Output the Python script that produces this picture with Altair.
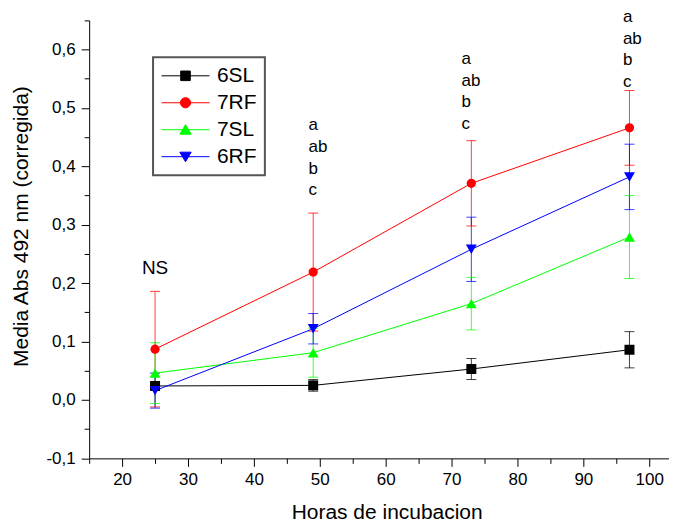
import altair as alt
import pandas as pd

FONT = "Liberation Sans"

# ---- data ----
hours = [25, 49, 73, 97]
series_names = ["6SL", "7RF", "7SL", "6RF"]
mean_6SL = [0.024, 0.025, 0.053, 0.086]
err_6SL = [0.006, 0.010, 0.018, 0.031]
mean_7RF = [0.087, 0.219, 0.371, 0.466]
err_7RF = [0.099, 0.101, 0.073, 0.064]
mean_7SL = [0.046, 0.081, 0.165, 0.279]
err_7SL = [0.052, 0.042, 0.045, 0.071]
mean_6RF = [0.016, 0.122, 0.258, 0.382]
err_6RF = [0.030, 0.026, 0.055, 0.056]

annot_text = ["NS", "a\nab\nb\nc", "a\nab\nb\nc", "a\nab\nb\nc"]
annot_x = [25, 48.3, 71.5, 96.0]
annot_y = [0.215, 0.4615, 0.5755, 0.647]

x_ticks = list(range(15, 105, 5))
y_ticks = [round(-0.1 + 0.05 * i, 2) for i in range(16)]

# ---- styles ----
colors = ["#000000", "#ff0000", "#00ff00", "#0000ff"]
markers = ["square", "circle", "triangle-up", "triangle-down"]
marker_sizes = [100, 85, 120, 120]
legend_paths = [
    "M -4 0 L 4 0 M -0.8 -0.8 L 0.8 -0.8 L 0.8 0.8 L -0.8 0.8 Z",
    "M -4 0 L 4 0 M -0.85 0 A 0.85 0.85 0 1 0 0.85 0 A 0.85 0.85 0 1 0 -0.85 0 Z",
    "M -4 0 L 4 0 M 0 -0.85 L 0.95 0.75 L -0.95 0.75 Z",
    "M -4 0 L 4 0 M 0 0.85 L 0.95 -0.75 L -0.95 -0.75 Z",
]

means = [mean_6SL, mean_7RF, mean_7SL, mean_6RF]
errs = [err_6SL, err_7RF, err_7SL, err_6RF]
rows = []
for si, name in enumerate(series_names):
    for h, m, e in zip(hours, means[si], errs[si]):
        rows.append({"series": name, "hours": h, "mean": m, "err": e,
                     "marker": markers[si], "msize": marker_sizes[si]})
df = pd.DataFrame(rows)
ann = pd.DataFrame({"text": annot_text, "x": annot_x, "y": annot_y})

xscale = alt.Scale(domain=[15, 103], nice=False, zero=False)
yscale = alt.Scale(domain=[-0.1, 0.65], nice=False, zero=False)

x_axis = alt.Axis(
    values=x_ticks, title="Horas de incubacion", grid=False,
    labelExpr="datum.value % 10 == 0 ? datum.label : ''",
    tickSize={"condition": {"test": "datum.value % 10 != 0", "value": 5}, "value": 8},
    labelPadding=5, titleX=298, titleY=60, titleBaseline="alphabetic", titleAlign="center",
)
y_axis = alt.Axis(
    values=y_ticks, title="Media Abs 492 nm (corregida)", grid=False,
    labelExpr="abs(datum.value*10 - round(datum.value*10)) < 0.001 ? replace(replace(format(datum.value, '.1f'), '.', ','), '\u2212', '-') : ''",
    tickSize={"condition": {"test": "abs(datum.value*10 - round(datum.value*10)) > 0.001", "value": 5}, "value": 8},
    labelPadding=6, titleX=-61.3, titleY=206, titleBaseline="alphabetic", titleAlign="center",
)

color = alt.Color("series:N", scale=alt.Scale(domain=series_names, range=colors), legend=None)
X = alt.X("hours:Q", scale=xscale, axis=x_axis)

base = alt.Chart(df).transform_calculate(lo="datum.mean - datum.err", hi="datum.mean + datum.err")

rules = base.mark_rule(strokeWidth=1, opacity=0.75).encode(
    x=X, y=alt.Y("lo:Q", scale=yscale, axis=y_axis), y2="hi:Q", color=color)
caps_lo = base.mark_tick(orient="horizontal", size=10, thickness=1, opacity=0.75).encode(
    x=X, y=alt.Y("lo:Q", scale=yscale, axis=y_axis), color=color)
caps_hi = base.mark_tick(orient="horizontal", size=10, thickness=1, opacity=0.75).encode(
    x=X, y=alt.Y("hi:Q", scale=yscale, axis=y_axis), color=color)
lines = base.mark_line(strokeWidth=1).encode(
    x=X, y=alt.Y("mean:Q", scale=yscale, axis=y_axis), color=color, detail="series:N")
points = base.mark_point(filled=True, opacity=1).encode(
    x=X, y=alt.Y("mean:Q", scale=yscale, axis=y_axis), color=color,
    shape=alt.Shape("marker:N", scale=None),
    size=alt.Size("msize:Q", scale=None),
)

leg = alt.Legend(
    orient="none", legendX=64, legendY=37, title=None,
    labelFont=FONT, labelFontSize=21, labelColor="black",
    symbolSize=144, symbolStrokeWidth=1, symbolOpacity=1,
    symbolOffset=14, labelOffset=21, padding=8, rowPadding=5,
    strokeColor="#555555", fillColor="white",
)
legend_layer = alt.Chart(df).mark_point(filled=True, opacity=0).encode(
    x=X, y=alt.Y("mean:Q", scale=yscale, axis=y_axis),
    fill=alt.Fill("series:N", scale=alt.Scale(domain=series_names, range=colors), legend=leg),
    stroke=alt.Stroke("series:N", scale=alt.Scale(domain=series_names, range=colors), legend=leg),
    shape=alt.Shape("series:N", scale=alt.Scale(domain=series_names, range=legend_paths), legend=leg),
)

ann_base = alt.Chart(ann)
ns_text = ann_base.transform_filter("datum.text == 'NS'").mark_text(
    align="center", baseline="alphabetic", fontSize=19, font=FONT, color="black"
).encode(x=alt.X("x:Q", scale=xscale, axis=x_axis), y=alt.Y("y:Q", scale=yscale, axis=y_axis), text="text:N")
letters = ann_base.transform_filter("datum.text != 'NS'").mark_text(
    align="left", baseline="alphabetic", fontSize=17, font=FONT, color="black",
    lineBreak="\n", lineHeight=21.7
).encode(x=alt.X("x:Q", scale=xscale, axis=x_axis), y=alt.Y("y:Q", scale=yscale, axis=y_axis), text="text:N")

chart = alt.layer(rules, caps_lo, caps_hi, lines, points, legend_layer, ns_text, letters).resolve_legend(
    color="independent"
).properties(
    width=580.8, height=438.7,
    autosize=alt.AutoSizeParams(type="none"),
    padding={"left": 81.3, "top": 12, "right": 0, "bottom": 64},
).configure_view(stroke=None).configure_axis(
    labelFont=FONT, labelFontSize=17, labelColor="black",
    titleFont=FONT, titleFontSize=21, titleFontWeight="normal", titleColor="black",
    domainColor="black", domainWidth=1, tickColor="black", tickWidth=1,
).configure_legend(strokeWidth=2)

chart.save("out.html", embed_options={"renderer": "svg", "actions": False})
